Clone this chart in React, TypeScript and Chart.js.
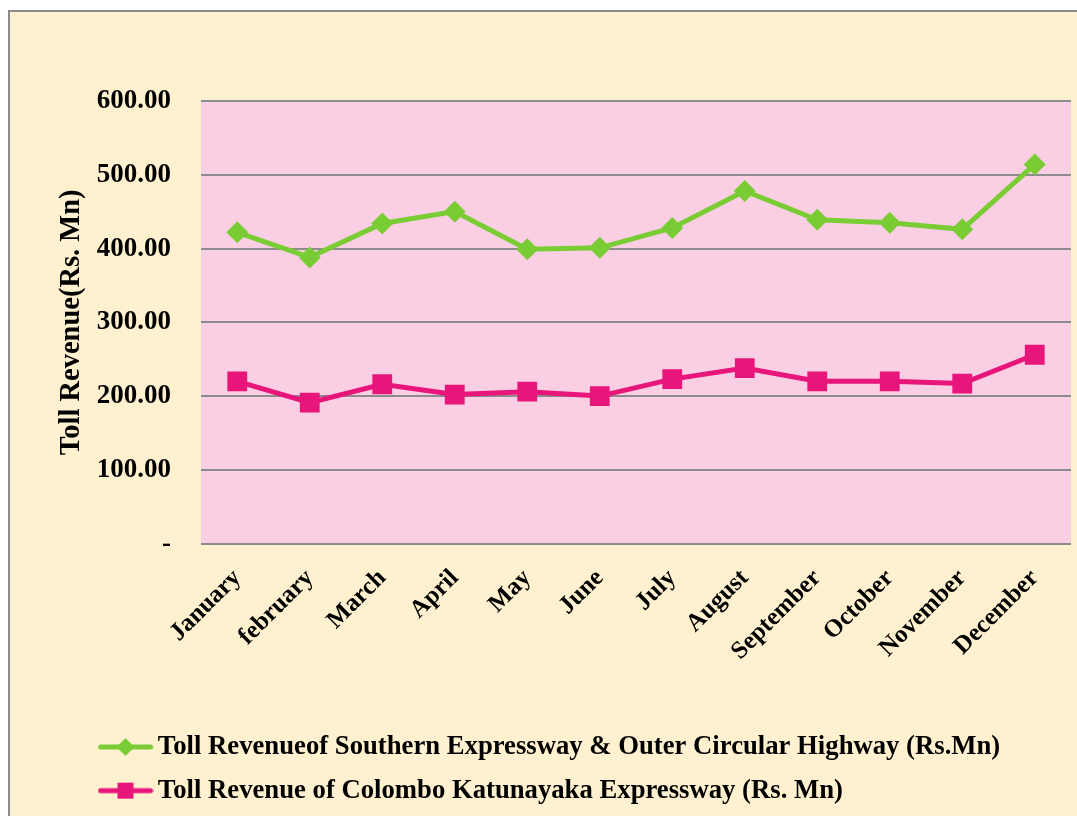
import React, { useEffect, useRef } from "react";
import { Chart, registerables } from "chart.js";

Chart.register(...registerables);

const months = [
  "January", "february", "March", "April", "May", "June",
  "July", "August", "September", "October", "November", "December",
];
const southernValues = [422, 388, 434, 450, 399, 401, 428, 478, 439, 435, 426, 514];
const katunayakaValues = [220, 191, 216, 202, 206, 200, 223, 238, 220, 220, 217, 256];
const southernLabel = "Toll Revenueof Southern Expressway & Outer Circular Highway (Rs.Mn)";
const katunayakaLabel = "Toll Revenue of Colombo Katunayaka Expressway (Rs. Mn)";
const yAxisTitle = "Toll Revenue(Rs. Mn)";

const GREEN = "#7acc34";
const MAGENTA = "#e8157a";
const CREAM = "#fff0cf";
const PINK = "#fbcfe3";
const GRID = "#8c8c8c";
const FONT = "'Liberation Serif', 'Times New Roman', serif";

function legendIcon(color: string, shape: "diamond" | "square"): HTMLCanvasElement {
  const c = document.createElement("canvas");
  c.width = 56;
  c.height = 22;
  const ctx = c.getContext("2d")!;
  ctx.strokeStyle = color;
  ctx.lineWidth = 5;
  ctx.lineCap = "round";
  ctx.beginPath();
  ctx.moveTo(3, 11);
  ctx.lineTo(53, 11);
  ctx.stroke();
  ctx.fillStyle = color;
  if (shape === "diamond") {
    ctx.beginPath();
    ctx.moveTo(28, 2);
    ctx.lineTo(37, 11);
    ctx.lineTo(28, 20);
    ctx.lineTo(19, 11);
    ctx.closePath();
    ctx.fill();
  } else {
    ctx.fillRect(20, 3, 16, 16);
  }
  return c;
}

const backgroundPlugin = {
  id: "bgPlugin",
  beforeDraw(chart: any) {
    const { ctx, width, height, chartArea } = chart;
    ctx.save();
    ctx.fillStyle = "#ffffff";
    ctx.fillRect(0, 0, width, height);
    ctx.fillStyle = CREAM;
    ctx.fillRect(8, 10, width, height);
    ctx.strokeStyle = "#8a8a8a";
    ctx.lineWidth = 2;
    ctx.strokeRect(9, 11, width + 20, height + 20);
    ctx.fillStyle = PINK;
    ctx.fillRect(chartArea.left, chartArea.top, chartArea.right - chartArea.left, chartArea.bottom - chartArea.top);
    ctx.restore();
    if (chart.legend) {
      chart.legend.left = 89.5;
    }
  },
};

export default function App() {
  const ref = useRef<HTMLCanvasElement | null>(null);

  useEffect(() => {
    if (!ref.current) return;
    const greenIcon = legendIcon(GREEN, "diamond");
    const pinkIcon = legendIcon(MAGENTA, "square");
    const chart = new Chart(ref.current, {
      type: "line",
      data: {
        labels: months,
        datasets: [
          {
            label: southernLabel,
            data: southernValues,
            borderColor: GREEN,
            backgroundColor: GREEN,
            borderWidth: 5,
            pointStyle: "rectRot",
            pointRadius: 11,
            pointHoverRadius: 11,
            pointBorderWidth: 0,
            tension: 0,
          },
          {
            label: katunayakaLabel,
            data: katunayakaValues,
            borderColor: MAGENTA,
            backgroundColor: MAGENTA,
            borderWidth: 5,
            pointStyle: "rect",
            pointRadius: 14,
            pointHoverRadius: 14,
            pointBorderWidth: 0,
            tension: 0,
          },
        ],
      },
      options: {
        responsive: false,
        animation: false,
        layout: { autoPadding: false, padding: { left: 0, top: 101, right: 6, bottom: 2 } },
        plugins: {
          tooltip: { enabled: false },
          legend: {
            position: "bottom",
            align: "start",
            labels: {
              usePointStyle: true,
              pointStyleWidth: 38,
              padding: 17,
              color: "#000",
              font: { family: FONT, size: 26.7, weight: "bold" },
              generateLabels: (ch: any) =>
                ch.data.datasets.map((ds: any, i: number) => ({
                  text: ds.label,
                  fillStyle: ds.borderColor,
                  strokeStyle: ds.borderColor,
                  lineWidth: 0,
                  pointStyle: i === 0 ? greenIcon : pinkIcon,
                  hidden: false,
                  datasetIndex: i,
                  fontColor: "#000",
                })),
            },
          },
        },
        scales: {
          x: {
            offset: true,
            grid: { display: false, drawTicks: false },
            border: { display: false },
            ticks: {
              autoSkip: false,
              minRotation: 45,
              maxRotation: 45,
              padding: 20,
              color: "#000",
              font: { family: FONT, size: 25, weight: "bold" },
            },
            afterFit: (scale: any) => {
              scale.height = 173;
              scale.paddingLeft = 0;
              scale.paddingRight = 0;
            },
          },
          y: {
            min: 0,
            max: 600,
            grid: { color: GRID, lineWidth: 2, drawTicks: false },
            border: { display: false },
            ticks: {
              stepSize: 100,
              padding: 30,
              color: "#000",
              font: { family: FONT, size: 27, weight: "bold" },
              callback: (v: any) => (Number(v) === 0 ? "-" : Number(v).toFixed(2)),
            },
            title: {
              display: true,
              text: yAxisTitle,
              color: "#000",
              padding: { top: 55, bottom: 0 },
              font: { family: FONT, size: 28.5, weight: "bold" },
            },
            afterFit: (scale: any) => {
              scale.width = 201;
            },
          },
        },
      },
      plugins: [backgroundPlugin],
    });
    return () => chart.destroy();
  }, []);

  return (
    <div style={{ position: "absolute", left: 0, top: 0, width: 1077, height: 816 }}>
      <canvas ref={ref} width={1077} height={816} style={{ display: "block", width: 1077, height: 816 }} />
    </div>
  );
}
